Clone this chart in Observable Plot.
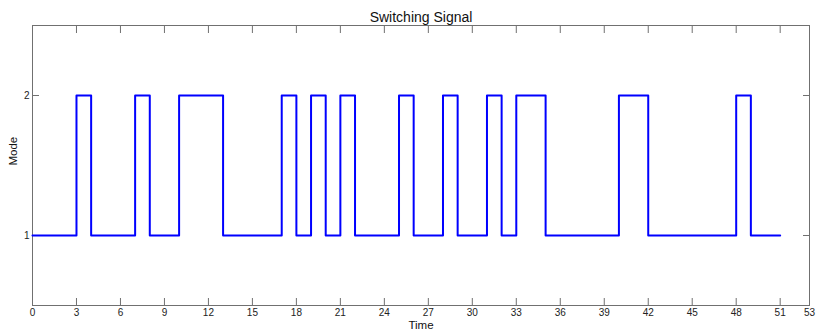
<!DOCTYPE html>
<html>
<head>
<meta charset="utf-8">
<script src="https://cdn.jsdelivr.net/npm/d3@7"></script>
<script src="https://cdn.jsdelivr.net/npm/@observablehq/plot@0.6"></script>
<style>
  body { margin: 0; background: #fff; }
  svg { font-family: "Liberation Sans", Arial, sans-serif; }
</style>
</head>
<body>
<div id="chart"></div>
<script>
// Switching times and the mode entered at each time
const switchTimes = [0, 3, 4, 7, 8, 10, 13, 17, 18, 19, 20, 21, 22, 25, 26, 28, 29, 31, 32, 33, 35, 40, 42, 48, 49, 51];
const modes       = [1, 2, 1, 2, 1, 2, 1, 2, 1, 2, 1, 2, 1, 2, 1, 2, 1, 2, 1, 2, 1, 2, 1, 2, 1, 1];
const xTicks = [0, 3, 6, 9, 12, 15, 18, 21, 24, 27, 30, 33, 36, 39, 42, 45, 48, 51, 53];
const yTicks = [1, 2];
const title = "Switching Signal";
const xLabel = "Time";
const yLabel = "Mode";

const data = switchTimes.map((t, i) => ({t, mode: modes[i]}));
const axisColor = "#707070";
const textColor = "#222";

const chart = Plot.plot({
  width: 816,
  height: 332,
  marginLeft: 32,
  marginRight: 7,
  marginTop: 25,
  marginBottom: 27,
  style: {fontFamily: "Liberation Sans, Arial, sans-serif", fontSize: "10px", color: textColor, background: "#fff"},
  x: {domain: [0, 53], axis: null},
  y: {domain: [0.5, 2.5], axis: null},
  marks: [
    Plot.frame({stroke: axisColor}),
    // inward ticks
    Plot.axisX(xTicks, {anchor: "bottom", tickSize: 7, dy: -7, tickFormat: () => "", stroke: axisColor, label: null}),
    Plot.axisX(xTicks, {anchor: "top", tickSize: 7, dy: 7, tickFormat: () => "", stroke: axisColor, label: null}),
    Plot.axisY(yTicks, {anchor: "left", tickSize: 7, dx: 7, tickFormat: () => "", stroke: axisColor, label: null}),
    Plot.axisY(yTicks, {anchor: "right", tickSize: 7, dx: -7, tickFormat: () => "", stroke: axisColor, label: null}),
    // labels
    Plot.axisX(xTicks, {anchor: "bottom", tickSize: 0, tickPadding: 3, label: null, fill: textColor, fontSize: 10, tickFormat: d3.format("d")}),
    Plot.axisY(yTicks, {anchor: "left", tickSize: 0, tickPadding: 3, label: null, fill: textColor, fontSize: 10, tickFormat: d3.format("d")}),
    Plot.line(data, {x: "t", y: "mode", curve: "step-after", stroke: "#0000ff", strokeWidth: 2}),
    Plot.text([title], {frameAnchor: "top", dy: -13, fontSize: 14, fill: "#111"}),
    Plot.text([xLabel], {frameAnchor: "bottom", dy: 23, fontSize: 11.5, fill: "#111"}),
    Plot.text([yLabel], {frameAnchor: "left", dx: -19, rotate: -90, fontSize: 11.5, fill: "#111"})
  ]
});
document.getElementById("chart").appendChild(chart);
</script>
</body>
</html>
